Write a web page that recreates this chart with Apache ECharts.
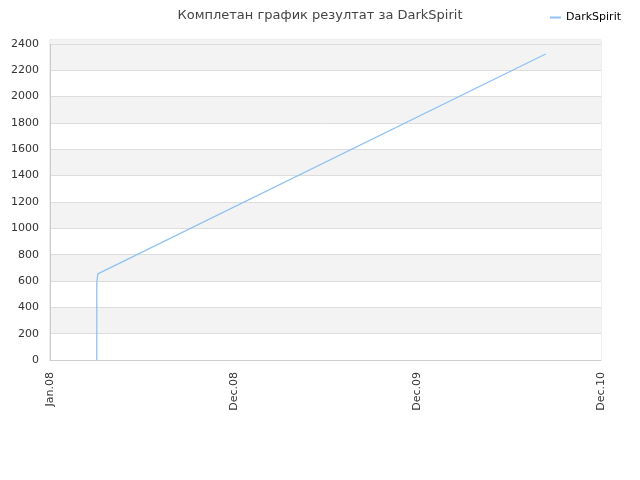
<!DOCTYPE html>
<html>
<head>
<meta charset="utf-8">
<script src="https://cdn.jsdelivr.net/npm/echarts@6/dist/echarts.min.js"></script>
<style>html,body{margin:0;padding:0;background:#fff}#c{width:640px;height:480px}</style>
</head>
<body>
<div id="c"></div>
<script>
var titleText = 'Комплетан график резултат за DarkSpirit';
var seriesName = 'DarkSpirit';
var dates = ['2008-04-03', '2008-04-03', '2008-04-05', '2010-09-12'];
var values = [0, 588, 654, 2324];
var xTickLabels = ['Jan.08', 'Dec.08', 'Dec.09', 'Dec.10'];
var yTicks = [0, 200, 400, 600, 800, 1000, 1200, 1400, 1600, 1800, 2000, 2200, 2400];

var DAY = 86400000;
var xMin = Date.UTC(2008, 0, 1);
var xInterval = 365 * DAY;
var xMax = xMin + 3 * xInterval;
function ts(s) { var p = s.split('-'); return Date.UTC(+p[0], +p[1] - 1, +p[2]); }
var data = dates.map(function (d, i) { return [ts(d), values[i]]; });

var chart = echarts.init(document.getElementById('c'));
chart.setOption({
  animation: false,
  textStyle: { fontFamily: 'DejaVu Sans' },
  title: {
    text: titleText, left: 'center', top: 4,
    textStyle: { fontFamily: 'DejaVu Sans', fontSize: 13, fontWeight: 'normal', color: '#444' }
  },
  legend: {
    data: [seriesName], right: 14, top: 7, itemWidth: 11, itemHeight: 2, itemGap: 6,
    icon: 'rect',
    textStyle: { fontFamily: 'DejaVu Sans', fontSize: 11, color: '#000' }
  },
  grid: { left: 50, right: 39, top: 40, bottom: 120, show: true, borderColor: '#ddd', borderWidth: 1, containLabel: false },
  xAxis: {
    type: 'value', min: xMin, max: xMax, interval: xInterval,
    axisLine: { show: true, lineStyle: { color: '#ccc' } },
    axisTick: { show: false },
    splitLine: { show: false },
    axisLabel: {
      rotate: 90, margin: 12, fontSize: 11, color: '#333', fontFamily: 'DejaVu Sans',
      formatter: function (v) { return xTickLabels[Math.round((v - xMin) / xInterval)] || ''; }
    }
  },
  yAxis: {
    type: 'value', min: 0, max: 2430, interval: 200,
    axisLine: { show: true, lineStyle: { color: '#ccc' } },
    axisTick: { show: false },
    splitLine: { show: true, lineStyle: { color: '#ddd' } },
    splitArea: { show: true, areaStyle: { color: ['#ffffff', '#f3f3f3'] } },
    axisLabel: {
      margin: 11, fontSize: 11, color: '#333', fontFamily: 'DejaVu Sans',
      formatter: function (v) { return yTicks.indexOf(v) >= 0 ? String(v) : ''; }
    }
  },
  series: [{
    name: seriesName, type: 'line', data: data, showSymbol: false, symbol: 'none',
    lineStyle: { color: '#8fc1f4', width: 1.3 }, itemStyle: { color: '#8fc1f4' },
    markArea: {
      silent: true, itemStyle: { color: '#f3f3f3' },
      data: [[{ yAxis: 2400 }, { yAxis: 2430 }]]
    }
  }]
});
</script>
</body>
</html>
